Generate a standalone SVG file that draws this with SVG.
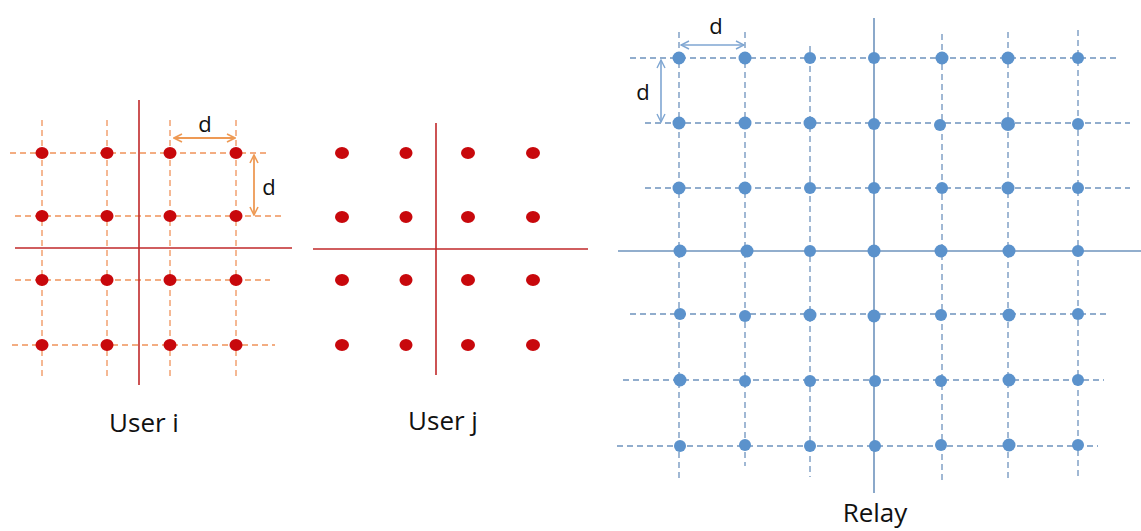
<svg xmlns="http://www.w3.org/2000/svg" width="1141" height="531" viewBox="0 0 1141 531">
<defs>
<style>
.od{stroke:#F0935A;stroke-width:1.3;stroke-dasharray:6 4;fill:none}
.ra{stroke:#C0282A;stroke-width:1.6;fill:none}
.rd{fill:#C8080C}
.bd{stroke:#6E93BD;stroke-width:1.3;stroke-dasharray:6 4;fill:none}
.ba{stroke:#6E93BD;stroke-width:1.6;fill:none}
.bc{fill:#5B92CC}
.oa{stroke:#EE9A55;stroke-width:1.8;fill:none}
.ba2{stroke:#7FA6D2;stroke-width:1.6;fill:none}
.t{font-family:"Open Sans","Noto Sans",sans-serif;font-size:26px;fill:#111}
.d{font-family:"Open Sans","Noto Sans",sans-serif;font-size:22px;fill:#111}
</style>
<marker id="mo" viewBox="0 0 10 10" refX="9" refY="5" markerWidth="10" markerHeight="10" markerUnits="userSpaceOnUse" orient="auto-start-reverse"><polyline points="1,1 9,5 1,9" fill="none" stroke="#EE9A55" stroke-width="1.6"/></marker>
<marker id="mb" viewBox="0 0 10 10" refX="9" refY="5" markerWidth="10" markerHeight="10" markerUnits="userSpaceOnUse" orient="auto-start-reverse"><polyline points="1,1 9,5 1,9" fill="none" stroke="#7FA6D2" stroke-width="1.4"/></marker>
</defs>
<rect width="1141" height="531" fill="#fff"/>

<g id="user-i">
<g class="grid">
<line class="od" x1="10" y1="153" x2="270" y2="153"/>
<line class="od" x1="15" y1="216" x2="283" y2="216"/>
<line class="od" x1="15" y1="280" x2="270" y2="280"/>
<line class="od" x1="12" y1="345" x2="275" y2="345"/>
<line class="od" x1="42" y1="120" x2="42" y2="378"/>
<line class="od" x1="107" y1="120" x2="107" y2="378"/>
<line class="od" x1="170" y1="120" x2="170" y2="378"/>
<line class="od" x1="236" y1="120" x2="236" y2="378"/>
</g>
<line class="ra" x1="139" y1="100" x2="139" y2="385"/>
<line class="ra" x1="15" y1="248" x2="292" y2="248"/>
<g>
<ellipse class="rd" cx="42" cy="153" rx="6.5" ry="6"/><ellipse class="rd" cx="107" cy="153" rx="6.5" ry="6"/><ellipse class="rd" cx="170" cy="153" rx="6.5" ry="6"/><ellipse class="rd" cx="236" cy="153" rx="6.5" ry="6"/>
<ellipse class="rd" cx="42" cy="216" rx="6.5" ry="6"/><ellipse class="rd" cx="107" cy="216" rx="6.5" ry="6"/><ellipse class="rd" cx="170" cy="216" rx="6.5" ry="6"/><ellipse class="rd" cx="236" cy="216" rx="6.5" ry="6"/>
<ellipse class="rd" cx="42" cy="280" rx="6.5" ry="6"/><ellipse class="rd" cx="107" cy="280" rx="6.5" ry="6"/><ellipse class="rd" cx="170" cy="280" rx="6.5" ry="6"/><ellipse class="rd" cx="236" cy="280" rx="6.5" ry="6"/>
<ellipse class="rd" cx="42" cy="345" rx="6.5" ry="6"/><ellipse class="rd" cx="107" cy="345" rx="6.5" ry="6"/><ellipse class="rd" cx="170" cy="345" rx="6.5" ry="6"/><ellipse class="rd" cx="236" cy="345" rx="6.5" ry="6"/>
</g>
<line class="oa" x1="174" y1="138" x2="235" y2="138" marker-start="url(#mo)" marker-end="url(#mo)"/>
<text class="d" x="205" y="132" text-anchor="middle">d</text>
<line class="oa" x1="254" y1="155" x2="254" y2="215" marker-start="url(#mo)" marker-end="url(#mo)"/>
<text class="d" x="269" y="195" text-anchor="middle">d</text>
<text class="t" x="144" y="432" text-anchor="middle">User i</text>
</g>

<g id="user-j">
<line class="ra" x1="436" y1="123" x2="436" y2="375"/>
<line class="ra" x1="313" y1="249" x2="588" y2="249"/>
<g>
<ellipse class="rd" cx="342" cy="153" rx="7" ry="6"/><ellipse class="rd" cx="406" cy="153" rx="6.5" ry="6"/><ellipse class="rd" cx="468" cy="153" rx="7" ry="6"/><ellipse class="rd" cx="533" cy="153" rx="7" ry="6"/>
<ellipse class="rd" cx="342" cy="217" rx="7" ry="6"/><ellipse class="rd" cx="406" cy="217" rx="6.5" ry="6"/><ellipse class="rd" cx="468" cy="217" rx="7" ry="6"/><ellipse class="rd" cx="533" cy="217" rx="7" ry="6"/>
<ellipse class="rd" cx="342" cy="280" rx="7" ry="6"/><ellipse class="rd" cx="406" cy="280" rx="6.5" ry="6"/><ellipse class="rd" cx="468" cy="280" rx="7" ry="6"/><ellipse class="rd" cx="533" cy="280" rx="7" ry="6"/>
<ellipse class="rd" cx="342" cy="345" rx="7" ry="6"/><ellipse class="rd" cx="406" cy="345" rx="6.5" ry="6"/><ellipse class="rd" cx="468" cy="345" rx="7" ry="6"/><ellipse class="rd" cx="533" cy="345" rx="7" ry="6"/>
</g>
<text class="t" x="443" y="430" text-anchor="middle">User j</text>
</g>

<g id="relay">
<g class="grid">
<line class="bd" x1="630" y1="58" x2="1120" y2="58"/>
<line class="bd" x1="645" y1="123" x2="1130" y2="123"/>
<line class="bd" x1="645" y1="188" x2="1130" y2="188"/>
<line class="bd" x1="630" y1="314" x2="1110" y2="314"/>
<line class="bd" x1="623" y1="380" x2="1104" y2="380"/>
<line class="bd" x1="617" y1="446" x2="1098" y2="446"/>
<line class="bd" x1="679" y1="32" x2="679" y2="478"/>
<line class="bd" x1="745" y1="32" x2="745" y2="466"/>
<line class="bd" x1="810" y1="46" x2="810" y2="477"/>
<line class="bd" x1="942" y1="34" x2="942" y2="480"/>
<line class="bd" x1="1008" y1="32" x2="1008" y2="480"/>
<line class="bd" x1="1078" y1="30" x2="1078" y2="476"/>
</g>
<line class="ba" x1="874" y1="18" x2="874" y2="493"/>
<line class="ba" x1="618" y1="251" x2="1141" y2="251"/>
<g>
<circle class="bc" cx="679" cy="58" r="6.5"/><circle class="bc" cx="745" cy="58" r="6.5"/><circle class="bc" cx="810" cy="58" r="6"/><circle class="bc" cx="874" cy="58" r="6"/><circle class="bc" cx="942" cy="58" r="6.5"/><circle class="bc" cx="1008" cy="58" r="6.5"/><circle class="bc" cx="1078" cy="58" r="6"/>
<circle class="bc" cx="679" cy="123" r="6.5"/><circle class="bc" cx="745" cy="123" r="6.5"/><circle class="bc" cx="810" cy="123" r="6.5"/><circle class="bc" cx="874" cy="124" r="6"/><circle class="bc" cx="940" cy="125" r="6"/><circle class="bc" cx="1008" cy="124" r="7"/><circle class="bc" cx="1078" cy="124" r="6"/>
<circle class="bc" cx="679" cy="188" r="6.5"/><circle class="bc" cx="745" cy="188" r="6.5"/><circle class="bc" cx="810" cy="188" r="6"/><circle class="bc" cx="874" cy="188" r="6"/><circle class="bc" cx="942" cy="188" r="6"/><circle class="bc" cx="1008" cy="188" r="6.5"/><circle class="bc" cx="1078" cy="188" r="6"/>
<circle class="bc" cx="680" cy="251" r="6.5"/><circle class="bc" cx="747" cy="251" r="6.5"/><circle class="bc" cx="810" cy="251" r="6"/><circle class="bc" cx="874" cy="251" r="6.5"/><circle class="bc" cx="941" cy="251" r="6.5"/><circle class="bc" cx="1009" cy="251" r="6.5"/><circle class="bc" cx="1078" cy="251" r="6"/>
<circle class="bc" cx="680" cy="314" r="6"/><circle class="bc" cx="745" cy="316" r="6"/><circle class="bc" cx="810" cy="315" r="6.5"/><circle class="bc" cx="874" cy="316" r="6.5"/><circle class="bc" cx="941" cy="315" r="6"/><circle class="bc" cx="1009" cy="315" r="6.5"/><circle class="bc" cx="1078" cy="314" r="6"/>
<circle class="bc" cx="680" cy="380" r="6.5"/><circle class="bc" cx="745" cy="381" r="6"/><circle class="bc" cx="810" cy="381" r="6"/><circle class="bc" cx="875" cy="381" r="6"/><circle class="bc" cx="941" cy="381" r="6"/><circle class="bc" cx="1009" cy="380" r="6.5"/><circle class="bc" cx="1078" cy="380" r="6"/>
<circle class="bc" cx="680" cy="446" r="6"/><circle class="bc" cx="745" cy="445" r="6"/><circle class="bc" cx="810" cy="446" r="6"/><circle class="bc" cx="875" cy="446" r="6"/><circle class="bc" cx="941" cy="445" r="6"/><circle class="bc" cx="1009" cy="445" r="6.5"/><circle class="bc" cx="1078" cy="445" r="6"/>
</g>
<line class="ba2" x1="681" y1="45" x2="744" y2="45" marker-start="url(#mb)" marker-end="url(#mb)"/>
<text class="d" x="716" y="34" text-anchor="middle">d</text>
<line class="ba2" x1="661" y1="60" x2="661" y2="122" marker-start="url(#mb)" marker-end="url(#mb)"/>
<text class="d" x="643" y="100" text-anchor="middle">d</text>
<text class="t" x="875" y="522" text-anchor="middle">Relay</text>
</g>
</svg>
